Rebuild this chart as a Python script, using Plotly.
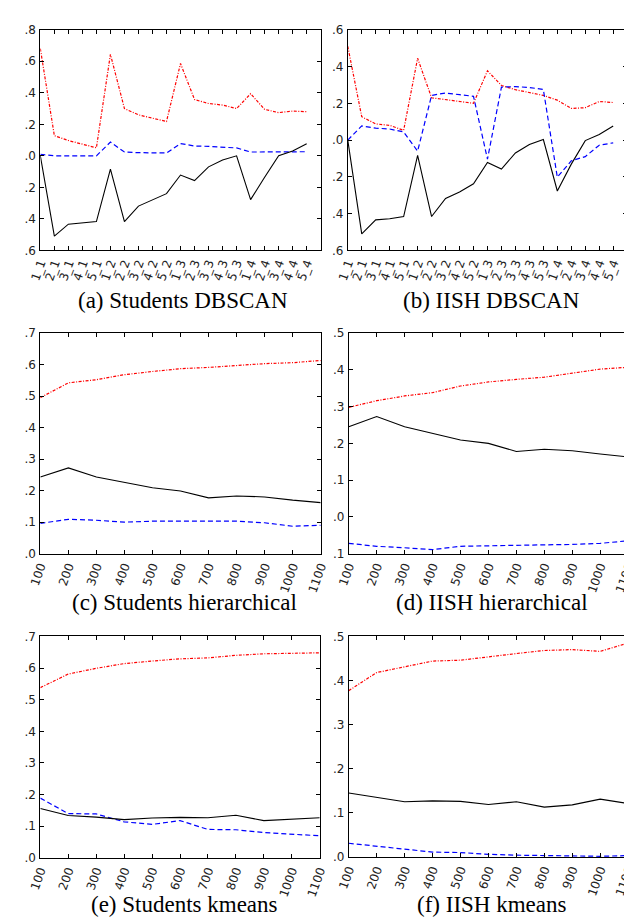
import plotly.graph_objects as go
from plotly.subplots import make_subplots

# ---------------- data ----------------
dbscan_labels = ["1_1", "2_1", "3_1", "4_1", "5_1",
                 "1_2", "2_2", "3_2", "4_2", "5_2",
                 "1_3", "2_3", "3_3", "4_3", "5_3",
                 "1_4", "2_4", "3_4", "4_4", "5_4"]
sizes = [100, 200, 300, 400, 500, 600, 700, 800, 900, 1000, 1100]

# (a) Students DBSCAN
a_red = [0.68, 0.128, 0.097, 0.072, 0.051, 0.644, 0.30, 0.26, 0.238, 0.218,
         0.586, 0.357, 0.332, 0.322, 0.30, 0.394, 0.295, 0.274, 0.284, 0.28]
a_blue = [0.01, 0.0, 0.0, 0.0, 0.0, 0.087, 0.024, 0.02, 0.02, 0.018,
          0.078, 0.062, 0.06, 0.055, 0.05, 0.024, 0.024, 0.024, 0.026, 0.026]
a_black = [0.0, -0.51, -0.434, -0.427, -0.417, -0.084, -0.417, -0.319, -0.282, -0.24,
           -0.122, -0.157, -0.07, -0.026, 0.0, -0.278, -0.136, 0.0, 0.03, 0.076]

# (b) IISH DBSCAN
b_red = [0.51, 0.127, 0.088, 0.08, 0.053, 0.445, 0.23, 0.22, 0.21, 0.20,
         0.377, 0.297, 0.274, 0.26, 0.243, 0.217, 0.172, 0.176, 0.21, 0.204]
b_blue = [0.0, 0.077, 0.065, 0.06, 0.044, -0.06, 0.243, 0.256, 0.247, 0.238,
          -0.104, 0.288, 0.291, 0.286, 0.275, -0.202, -0.113, -0.09, -0.028, -0.015]
b_black = [0.0, -0.51, -0.434, -0.428, -0.416, -0.083, -0.416, -0.318, -0.282, -0.238,
           -0.122, -0.158, -0.07, -0.024, 0.003, -0.277, -0.131, -0.003, 0.03, 0.077]

# (c) Students hierarchical
c_red = [0.495, 0.542, 0.552, 0.568, 0.578, 0.587, 0.591, 0.597, 0.603, 0.606, 0.613]
c_black = [0.243, 0.272, 0.243, 0.225, 0.209, 0.199, 0.177, 0.183, 0.18, 0.17, 0.162]
c_blue = [0.096, 0.109, 0.106, 0.10, 0.103, 0.103, 0.101, 0.103, 0.098, 0.087, 0.09]

# (d) IISH hierarchical
d_red = [0.298, 0.316, 0.329, 0.338, 0.356, 0.367, 0.374, 0.38, 0.391, 0.402, 0.407]
d_black = [0.245, 0.273, 0.245, 0.227, 0.209, 0.20, 0.178, 0.184, 0.18, 0.171, 0.163]
d_blue = [-0.072, -0.08, -0.084, -0.089, -0.08, -0.078, -0.077, -0.076, -0.075, -0.072, -0.065]

# (e) Students kmeans
e_red = [0.538, 0.581, 0.599, 0.614, 0.622, 0.629, 0.632, 0.64, 0.645, 0.647, 0.648]
e_black = [0.156, 0.134, 0.129, 0.121, 0.126, 0.128, 0.127, 0.135, 0.118, 0.122, 0.127]
e_blue = [0.189, 0.14, 0.139, 0.114, 0.106, 0.118, 0.09, 0.089, 0.08, 0.074, 0.07]

# (f) IISH kmeans
f_red = [0.377, 0.418, 0.431, 0.444, 0.446, 0.454, 0.461, 0.468, 0.47, 0.466, 0.485]
f_black = [0.145, 0.135, 0.125, 0.127, 0.126, 0.119, 0.125, 0.113, 0.118, 0.131, 0.121]
f_blue = [0.031, 0.024, 0.017, 0.011, 0.01, 0.006, 0.004, 0.003, 0.003, 0.0015, 0.003]

captions = ["(a) Students DBSCAN", "(b) IISH DBSCAN",
            "(c) Students hierarchical", "(d) IISH hierarchical",
            "(e) Students kmeans", "(f) IISH kmeans"]

y_ticks = [
    [-0.6, -0.4, -0.2, 0.0, 0.2, 0.4, 0.6, 0.8],
    [-0.6, -0.4, -0.2, 0.0, 0.2, 0.4, 0.6],
    [0.0, 0.1, 0.2, 0.3, 0.4, 0.5, 0.6, 0.7],
    [-0.1, 0.0, 0.1, 0.2, 0.3, 0.4, 0.5],
    [0.0, 0.1, 0.2, 0.3, 0.4, 0.5, 0.6, 0.7],
    [0.0, 0.1, 0.2, 0.3, 0.4, 0.5],
]

# ---------------- figure ----------------
W, H = 632, 917
fig = make_subplots(rows=3, cols=2)

panels = [
    (1, 1, dbscan_labels, a_red, a_blue, a_black),
    (1, 2, dbscan_labels, b_red, b_blue, b_black),
    (2, 1, sizes, c_red, c_blue, c_black),
    (2, 2, sizes, d_red, d_blue, d_black),
    (3, 1, sizes, e_red, e_blue, e_black),
    (3, 2, sizes, f_red, f_blue, f_black),
]

red_style = dict(color="#ff0000", width=1.2, dash="3px,1.5px,1px,1.5px")
blue_style = dict(color="#0000ff", width=1.2, dash="5px,3px")
black_style = dict(color="#000000", width=1.1)

for (r, c, xs, red, blue, black) in panels:
    fig.add_trace(go.Scatter(x=xs, y=red, mode="lines", line=red_style), row=r, col=c)
    fig.add_trace(go.Scatter(x=xs, y=blue, mode="lines", line=blue_style), row=r, col=c)
    fig.add_trace(go.Scatter(x=xs, y=black, mode="lines", line=black_style), row=r, col=c)

# domains in pixels (left, right, top, bottom)
px_boxes = [
    (20, 310, 15, 239),
    (338, 627, 15, 239),
    (20, 310, 323, 547),
    (339, 628, 323, 547),
    (20, 309, 631, 856),
    (339, 628, 631, 855),
]

tick_font = dict(family="DejaVu Sans", size=12, color="#222222")

def lab(v):
    s = f"{abs(v):.1f}"
    return s[1:] if s.startswith("0") else s

for i, (l, rgt, t, b) in enumerate(px_boxes):
    idx = "" if i == 0 else str(i + 1)
    xa = "xaxis" + idx
    ya = "yaxis" + idx
    common = dict(showline=True, linecolor="black", linewidth=1, mirror="allticks",
                  ticks="inside", ticklen=4, tickcolor="black", tickwidth=1,
                  showgrid=False, zeroline=False, tickfont=tick_font)
    if i < 2:
        xcfg = dict(range=[0, 20], tickmode="array",
                    tickvals=dbscan_labels, ticktext=dbscan_labels,
                    tickangle=-70, type="category")
    else:
        xcfg = dict(range=[100, 1100], tickmode="array",
                    tickvals=sizes, ticktext=[str(s) for s in sizes],
                    tickangle=-70)
    fig.layout[xa].update(domain=[l / W, rgt / W], **xcfg, **common)
    yt = y_ticks[i]
    fig.layout[ya].update(domain=[(H - b) / H, (H - t) / H],
                          range=[yt[0], yt[-1]], tickmode="array",
                          tickvals=yt, ticktext=[lab(v) for v in yt],
                          ticklabelstandoff=1, **common)

# captions
cap_pos = [(168, 290), (487, 290), (169, 597), (487, 597), (169, 903), (487, 903)]
for text, (cx, cy) in zip(captions, cap_pos):
    fig.add_annotation(text=text, xref="paper", yref="paper",
                       x=cx / W, y=(H - cy) / H, xanchor="center", yanchor="middle",
                       showarrow=False,
                       font=dict(family="Liberation Serif, Times New Roman, Times, serif",
                                 size=23, color="black"))

fig.update_layout(width=W, height=H, margin=dict(l=0, r=0, t=0, b=0),
                  showlegend=False, paper_bgcolor="white", plot_bgcolor="white")

fig.write_html("out.html")
